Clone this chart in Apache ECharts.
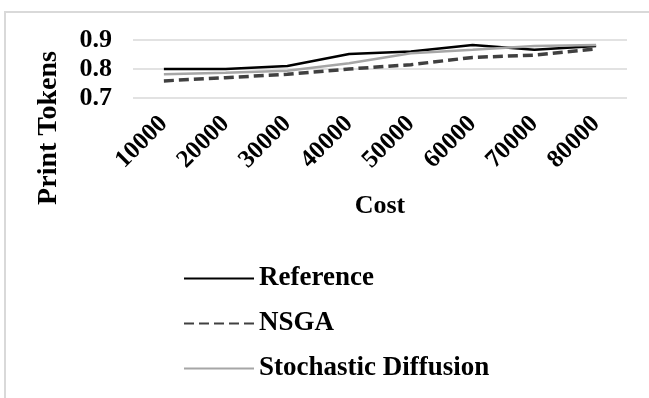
<!DOCTYPE html>
<html><head><meta charset="utf-8">
<script src="https://cdn.jsdelivr.net/npm/echarts@6/dist/echarts.min.js"></script>
<style>html,body{margin:0;padding:0;background:#fff}#c{width:649px;height:398px}
#frame{position:absolute;left:4px;top:11px;width:645px;height:387px;border-left:2px solid #d9d9d9;border-top:2px solid #d9d9d9;box-sizing:border-box;pointer-events:none}</style>
</head><body>
<div id="c"></div><div id="frame"></div>
<script>
const categories = ['10000','20000','30000','40000','50000','60000','70000','80000'];
const referenceVals = [0.800, 0.800, 0.810, 0.852, 0.860, 0.883, 0.866, 0.879];
const nsgaVals = [0.759, 0.770, 0.782, 0.800, 0.815, 0.840, 0.848, 0.869];
const stochasticVals = [0.782, 0.787, 0.794, 0.820, 0.854, 0.866, 0.879, 0.883];
const yTicks = [0.7, 0.8, 0.9];

const font = 'Liberation Serif';
const chart = echarts.init(document.getElementById('c'));
chart.setOption({
  animation: false,
  grid: {left: 133, top: 40, width: 494, height: 58, containLabel: false},
  xAxis: {
    type: 'category', data: categories, boundaryGap: true,
    name: 'Cost', nameLocation: 'middle', nameGap: 95,
    nameTextStyle: {fontFamily: font, fontWeight: 'bold', fontSize: 26, color: '#000'},
    axisLine: {show: false}, axisTick: {show: false},
    axisLabel: {rotate: 45, fontFamily: font, fontWeight: 'bold', fontSize: 25, color: '#000', margin: 22}
  },
  yAxis: {
    type: 'value', min: 0.7, max: 0.9, interval: 0.1,
    axisLine: {show: false}, axisTick: {show: false},
    splitLine: {lineStyle: {color: '#d9d9d9', width: 1.5}},
    axisLabel: {fontFamily: font, fontWeight: 'bold', fontSize: 26, color: '#000', margin: 21,
      formatter: v => yTicks.includes(Math.round(v*10)/10) ? v.toFixed(1) : ''}
  },
  graphic: [{
    type: 'text', rotation: Math.PI/2, x: 49, y: 128,
    style: {text: 'Print Tokens', fontFamily: font, fontWeight: 'bold', fontSize: 28, fill: '#000',
      align: 'center', verticalAlign: 'middle'}
  }],
  legend: {
    orient: 'vertical', left: 178, top: 260, itemWidth: 70, itemHeight: 14, itemGap: 18,
    itemStyle: {opacity: 0},
    textStyle: {fontFamily: font, fontWeight: 'bold', fontSize: 27, color: '#000'},
    data: ['Reference', 'NSGA', 'Stochastic Diffusion']
  },
  series: [
    {name: 'Reference', type: 'line', data: referenceVals, symbol: 'none',
     lineStyle: {color: '#000', width: 2.5}, itemStyle: {color: '#000'}},
    {name: 'NSGA', type: 'line', data: nsgaVals, symbol: 'none',
     lineStyle: {color: '#404040', width: 3.5, type: [10, 5]}, itemStyle: {color: '#404040'}},
    {name: 'Stochastic Diffusion', type: 'line', data: stochasticVals, symbol: 'none',
     lineStyle: {color: '#a6a6a6', width: 2.5}, itemStyle: {color: '#a6a6a6'}}
  ]
});
</script>
</body></html>
